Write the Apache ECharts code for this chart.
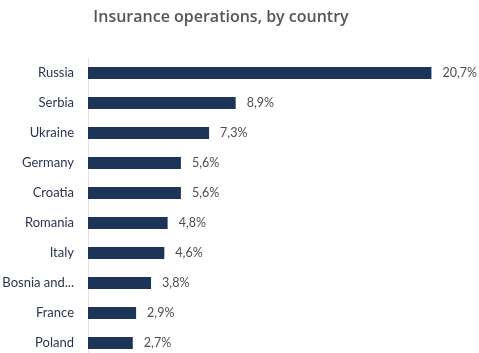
<!DOCTYPE html>
<html>
<head>
<meta charset="utf-8">
<script src="https://cdn.jsdelivr.net/npm/echarts@6/dist/echarts.min.js"></script>
<style>
  html, body { margin: 0; padding: 0; background: #fff; }
  #chart { width: 479px; height: 353px; }
</style>
</head>
<body>
<div id="chart"></div>
<script>
// Share of insurance operations per country, in percent
const countries = ['Russia', 'Serbia', 'Ukraine', 'Germany', 'Croatia', 'Romania', 'Italy', 'Bosnia and Herzegovina', 'France', 'Poland'];
const shares = [20.7, 8.9, 7.3, 5.6, 5.6, 4.8, 4.6, 3.8, 2.9, 2.7];

// Long names keep their first two words followed by an ellipsis
const shortName = name => {
  const words = name.split(' ');
  return words.length > 2 ? words.slice(0, 2).join(' ') + '...' : name;
};

const chart = echarts.init(document.getElementById('chart'));
chart.setOption({
  animation: false,
  title: {
    text: 'Insurance operations, by country',
    left: 216,
    textAlign: 'center',
    top: 4,
    textStyle: { fontFamily: 'Open Sans', fontSize: 16, fontWeight: 600, color: '#555' }
  },
  grid: { left: 88, top: 58, width: 365, height: 300, outerBoundsMode: 'none' },
  xAxis: {
    type: 'value', min: 0, max: 22, show: false
  },
  yAxis: {
    type: 'category',
    data: countries,
    inverse: true,
    axisLine: { show: true, lineStyle: { color: '#e2e2e2', width: 1 } },
    axisTick: { show: false },
    splitLine: { show: false },
    axisLabel: {
      margin: 14,
      fontFamily: 'Lato',
      fontSize: 13,
      color: '#2b3550',
      formatter: shortName
    }
  },
  series: [{
    type: 'bar',
    data: shares,
    barWidth: 12,
    itemStyle: { color: '#1d3459' },
    label: {
      show: true,
      position: 'right',
      distance: 11,
      fontFamily: 'Lato',
      fontSize: 12.5,
      color: '#4d4d4d',
      formatter: p => p.value.toFixed(1).replace('.', ',') + '%'
    }
  }]
});
</script>
</body>
</html>
